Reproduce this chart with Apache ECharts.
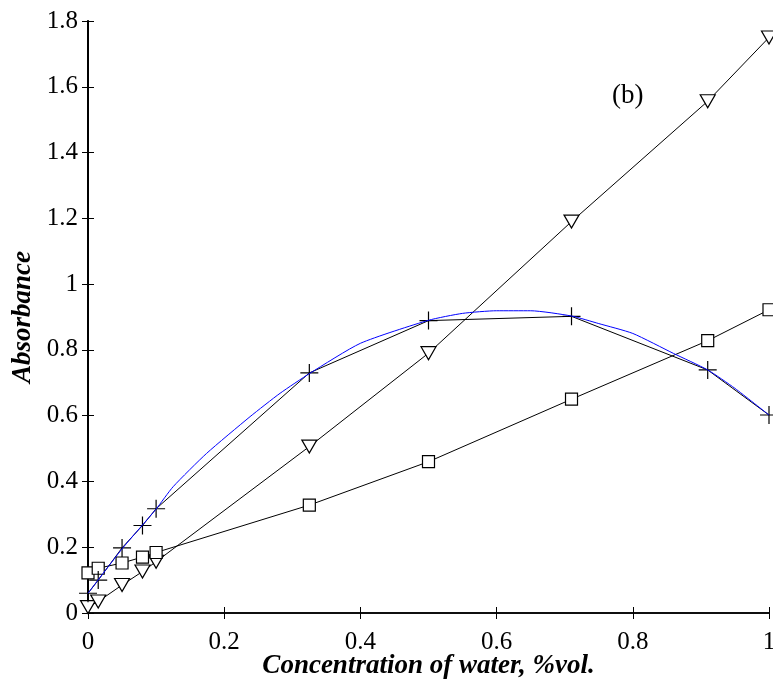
<!DOCTYPE html>
<html>
<head>
<meta charset="utf-8">
<script src="https://cdn.jsdelivr.net/npm/echarts@6/dist/echarts.min.js"></script>
<style>
  html, body { margin: 0; padding: 0; background: #fff; }
  #view { width: 773px; height: 685px; }
</style>
</head>
<body>
<div id="view"></div>
<script>
// water concentration (x) shared by the three measured series
var waterConc = [0, 0.015, 0.05, 0.08, 0.1, 0.325, 0.5, 0.71, 0.91, 1.0]
var crossVals = [0.06, 0.10, 0.198, 0.266, 0.317, 0.73, 0.889, 0.902, 0.739, 0.602]
var triangleVals = [0.018, 0.035, 0.085, 0.126, 0.156, 0.506, 0.79, 1.19, 1.556, 1.75]
var squareVals = [0.122, 0.136, 0.152, 0.17, 0.184, 0.328, 0.46, 0.65, 0.828, 0.922]
// blue fitted curve
var fitX = [0, 0.05, 0.1, 0.125, 0.174, 0.238, 0.282, 0.326, 0.4, 0.5, 0.55, 0.6, 0.65, 0.71, 0.75, 0.8, 0.86, 0.91, 0.95, 1.0]
var fitY = [0.06, 0.195, 0.316, 0.384, 0.485, 0.597, 0.668, 0.729, 0.82, 0.89, 0.911, 0.919, 0.919, 0.903, 0.88, 0.85, 0.789, 0.739, 0.683, 0.602]
var xTicks = [0, 0.2, 0.4, 0.6, 0.8, 1]
var yTicks = [0, 0.2, 0.4, 0.6, 0.8, 1, 1.2, 1.4, 1.6, 1.8]

function pairs (xs, ys) {
    var out = []
    for (var i = 0; i < xs.length; i++) out.push([xs[i], ys[i]])
    return out
}

var font = 'Liberation Serif'
var crossPath = 'path://M10,0L10,20M0,10L20,10'

function measured (name, vals, symbol, size, rotate) {
    return {
        name: name,
        type: 'line',
        data: pairs(waterConc, vals),
        symbol: symbol,
        symbolSize: size,
        symbolRotate: rotate || 0,
        showAllSymbol: true,
        clip: false,
        lineStyle: { color: '#000', width: 1 },
        itemStyle: { color: '#fff', borderColor: '#000', borderWidth: 1.2 },
        emphasis: { disabled: true },
        z: 2
    }
}

var crossSeries = measured('cross', crossVals, crossPath, 18)
crossSeries.itemStyle = { color: 'none', borderColor: '#000', borderWidth: 1.2 }

function tickFmt (list) {
    return function (v) { return list.indexOf(+v.toFixed(1)) >= 0 ? String(+v.toFixed(1)) : '' }
}

var mychart = echarts.init(document.getElementById('view'))
var options = {
    animation: false,
    grid: { left: 88, right: 4, top: 21, bottom: 72, outerBoundsMode: 'none', containLabel: false },
    textStyle: { fontFamily: font },
    graphic: [{
        type: 'text',
        left: 612,
        top: 82,
        style: { text: '(b)', font: '27px "Liberation Serif"', fill: '#000' }
    }],
    xAxis: [{
        type: 'value',
        min: 0, max: 1, interval: 0.2,
        name: 'Concentration of water, %vol.',
        nameLocation: 'middle',
        nameGap: 40,
        nameMoveOverlap: false,
        nameTextStyle: { fontFamily: font, fontSize: 27, fontWeight: 'bold', fontStyle: 'italic', color: '#000' },
        axisLine: { lineStyle: { color: '#000', width: 1.5 } },
        axisTick: { inside: true, length: 6, lineStyle: { color: '#000' } },
        axisLabel: { fontFamily: font, fontSize: 25, color: '#000', margin: 17, formatter: tickFmt(xTicks) },
        splitLine: { show: false }
    }, {
        type: 'value', position: 'top',
        min: 0, max: 1, interval: 0.2,
        axisLine: { lineStyle: { color: '#000', width: 1.5 } },
        axisTick: { inside: true, length: 6, lineStyle: { color: '#000' } },
        axisLabel: { show: false },
        splitLine: { show: false }
    }],
    yAxis: [{
        type: 'value',
        min: 0, max: 1.8, interval: 0.2,
        name: 'Absorbance',
        nameLocation: 'middle',
        nameGap: 51,
        nameMoveOverlap: false,
        nameTextStyle: { fontFamily: font, fontSize: 27, fontWeight: 'bold', fontStyle: 'italic', color: '#000' },
        axisLine: { lineStyle: { color: '#000', width: 1.5 } },
        axisTick: { inside: true, length: 6, lineStyle: { color: '#000' } },
        axisLabel: { fontFamily: font, fontSize: 25, color: '#000', margin: 10, formatter: tickFmt(yTicks) },
        splitLine: { show: false }
    }, {
        type: 'value', position: 'right',
        min: 0, max: 1.8, interval: 0.2,
        axisLine: { lineStyle: { color: '#000', width: 2 } },
        axisTick: { inside: true, length: 6, lineStyle: { color: '#000' } },
        axisLabel: { show: false },
        splitLine: { show: false }
    }],
    series: [
        measured('triangle', triangleVals, 'triangle', [15, 13], 180),
        measured('square', squareVals, 'rect', 12),
        crossSeries,
        {
            name: 'fit',
            type: 'line',
            data: pairs(fitX, fitY),
            smooth: 0.2,
            symbol: 'none',
            clip: false,
            lineStyle: { color: '#0000ff', width: 1 },
            emphasis: { disabled: true },
            z: 3
        }
    ]
}
mychart.setOption(options)
</script>
</body>
</html>
